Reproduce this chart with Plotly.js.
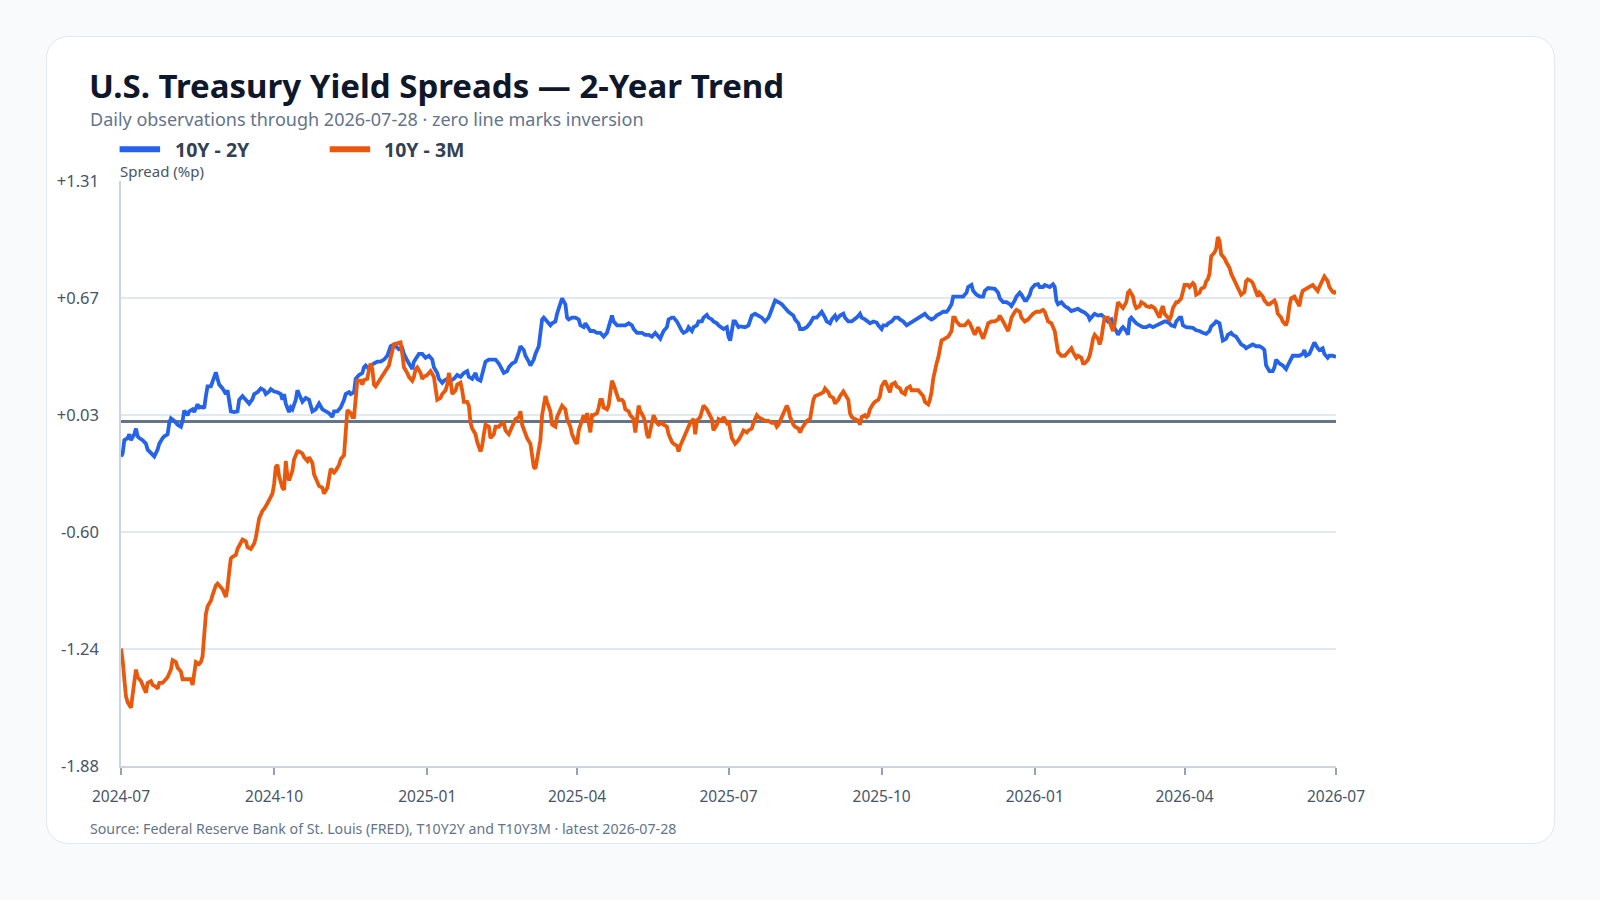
<!DOCTYPE html>
<html>
<head>
<meta charset="utf-8">
<script src="https://cdn.plot.ly/plotly-3.0.1.min.js"></script>
<style>
  html, body { margin: 0; padding: 0; background: #f8fafc; }
  #wrap { position: relative; width: 1600px; height: 900px; overflow: hidden; }
  #card { position: absolute; left: 46px; top: 36px; width: 1507px; height: 806px;
          background: #ffffff; border: 1.5px solid #e2e8f0; border-radius: 22px; }
  #chart { position: absolute; left: 0; top: 0; width: 1600px; height: 900px; }
</style>
</head>
<body>
<div id="wrap">
  <div id="card"></div>
  <div id="chart"></div>
</div>
<script>
// 10Y - 2Y Treasury spread (percentage points)
const dates2y = [
'2024-07-01','2024-07-02','2024-07-03','2024-07-05','2024-07-06','2024-07-07','2024-07-09','2024-07-10','2024-07-11','2024-07-12',
'2024-07-14','2024-07-16','2024-07-17','2024-07-19','2024-07-21','2024-07-23','2024-07-24','2024-07-26','2024-07-27','2024-07-29',
'2024-07-30','2024-07-31','2024-08-02','2024-08-04','2024-08-06','2024-08-07','2024-08-08','2024-08-10','2024-08-11','2024-08-13',
'2024-08-14','2024-08-16','2024-08-17','2024-08-19','2024-08-20','2024-08-21','2024-08-22','2024-08-24','2024-08-25','2024-08-27',
'2024-08-28','2024-08-29','2024-08-31','2024-09-02','2024-09-03','2024-09-04','2024-09-05','2024-09-07','2024-09-09','2024-09-10',
'2024-09-12','2024-09-13','2024-09-15','2024-09-16','2024-09-18','2024-09-19','2024-09-21','2024-09-23','2024-09-25','2024-09-26',
'2024-09-28','2024-09-29','2024-10-01','2024-10-03','2024-10-05','2024-10-06','2024-10-07','2024-10-08','2024-10-10','2024-10-11',
'2024-10-12','2024-10-14','2024-10-15','2024-10-17','2024-10-18','2024-10-20','2024-10-22','2024-10-23','2024-10-24','2024-10-26',
'2024-10-27','2024-10-28','2024-10-30','2024-11-01','2024-11-03','2024-11-05','2024-11-06','2024-11-08','2024-11-10','2024-11-12',
'2024-11-13','2024-11-15','2024-11-16','2024-11-18','2024-11-19','2024-11-21','2024-11-23','2024-11-24','2024-11-25','2024-11-27',
'2024-11-28','2024-11-30','2024-12-02','2024-12-04','2024-12-06','2024-12-08','2024-12-10','2024-12-12','2024-12-13','2024-12-15',
'2024-12-17','2024-12-18','2024-12-20','2024-12-21','2024-12-23','2024-12-24','2024-12-26','2024-12-27','2024-12-29','2024-12-31',
'2025-01-02','2025-01-04','2025-01-05','2025-01-07','2025-01-08','2025-01-10','2025-01-11','2025-01-13','2025-01-15','2025-01-17',
'2025-01-19','2025-01-21','2025-01-23','2025-01-25','2025-01-26','2025-01-28','2025-01-30','2025-01-31','2025-02-02','2025-02-03',
'2025-02-05','2025-02-07','2025-02-09','2025-02-11','2025-02-13','2025-02-14','2025-02-16','2025-02-18','2025-02-19','2025-02-21',
'2025-02-23','2025-02-25','2025-02-26','2025-02-28','2025-03-01','2025-03-03','2025-03-04','2025-03-06','2025-03-07','2025-03-09',
'2025-03-10','2025-03-11','2025-03-12','2025-03-14','2025-03-16','2025-03-17','2025-03-19','2025-03-20','2025-03-22','2025-03-23',
'2025-03-25','2025-03-26','2025-03-27','2025-03-29','2025-03-31','2025-04-02','2025-04-03','2025-04-05','2025-04-06','2025-04-08',
'2025-04-09','2025-04-11','2025-04-13','2025-04-15','2025-04-17','2025-04-19','2025-04-20','2025-04-21','2025-04-22','2025-04-23',
'2025-04-25','2025-04-27','2025-04-30','2025-05-02','2025-05-04','2025-05-05','2025-05-07','2025-05-08','2025-05-10','2025-05-12',
'2025-05-14','2025-05-16','2025-05-18','2025-05-19','2025-05-21','2025-05-22','2025-05-23','2025-05-25','2025-05-26','2025-05-28',
'2025-05-29','2025-05-31','2025-06-01','2025-06-03','2025-06-04','2025-06-06','2025-06-07','2025-06-09','2025-06-10','2025-06-12',
'2025-06-13','2025-06-15','2025-06-16','2025-06-18','2025-06-19','2025-06-21','2025-06-22','2025-06-24','2025-06-25','2025-06-27',
'2025-06-28','2025-06-30','2025-07-01','2025-07-02','2025-07-03','2025-07-04','2025-07-05','2025-07-07','2025-07-08','2025-07-11',
'2025-07-13','2025-07-15','2025-07-17','2025-07-19','2025-07-21','2025-07-23','2025-07-25','2025-07-26','2025-07-28','2025-07-29',
'2025-07-31','2025-08-02','2025-08-04','2025-08-06','2025-08-09','2025-08-10','2025-08-12','2025-08-13','2025-08-15','2025-08-17',
'2025-08-19','2025-08-21','2025-08-23','2025-08-25','2025-08-26','2025-08-28','2025-08-29','2025-08-31','2025-09-01','2025-09-03',
'2025-09-04','2025-09-06','2025-09-08','2025-09-09','2025-09-11','2025-09-13','2025-09-15','2025-09-16','2025-09-18','2025-09-19',
'2025-09-21','2025-09-24','2025-09-26','2025-09-28','2025-09-29','2025-10-01','2025-10-02','2025-10-04','2025-10-05','2025-10-07',
'2025-10-09','2025-10-11','2025-10-12','2025-10-14','2025-10-16','2025-10-18','2025-10-20','2025-10-22','2025-10-24','2025-10-26',
'2025-10-27','2025-10-29','2025-10-31','2025-11-02','2025-11-03','2025-11-05','2025-11-07','2025-11-09','2025-11-10','2025-11-12',
'2025-11-13','2025-11-15','2025-11-17','2025-11-19','2025-11-21','2025-11-22','2025-11-24','2025-11-25','2025-11-27','2025-11-29',
'2025-12-01','2025-12-02','2025-12-04','2025-12-06','2025-12-08','2025-12-10','2025-12-11','2025-12-13','2025-12-15','2025-12-17',
'2025-12-18','2025-12-20','2025-12-21','2025-12-23','2025-12-24','2025-12-26','2025-12-27','2025-12-29','2025-12-30','2026-01-01',
'2026-01-03','2026-01-04','2026-01-06','2026-01-07','2026-01-09','2026-01-10','2026-01-12','2026-01-13','2026-01-14','2026-01-15',
'2026-01-17','2026-01-19','2026-01-21','2026-01-23','2026-01-25','2026-01-27','2026-01-29','2026-01-31','2026-02-02','2026-02-03',
'2026-02-05','2026-02-06','2026-02-08','2026-02-10','2026-02-12','2026-02-14','2026-02-16','2026-02-17','2026-02-19','2026-02-20',
'2026-02-22','2026-02-23','2026-02-25','2026-02-26','2026-02-27','2026-02-28','2026-03-02','2026-03-03','2026-03-05','2026-03-07',
'2026-03-09','2026-03-11','2026-03-13','2026-03-15','2026-03-17','2026-03-18','2026-03-20','2026-03-21','2026-03-23','2026-03-24',
'2026-03-26','2026-03-27','2026-03-29','2026-03-30','2026-03-31','2026-04-02','2026-04-04','2026-04-06','2026-04-08','2026-04-10',
'2026-04-12','2026-04-14','2026-04-16','2026-04-17','2026-04-19','2026-04-20','2026-04-22','2026-04-23','2026-04-24','2026-04-26',
'2026-04-27','2026-04-29','2026-04-30','2026-05-02','2026-05-04','2026-05-05','2026-05-07','2026-05-08','2026-05-10','2026-05-12',
'2026-05-14','2026-05-16','2026-05-18','2026-05-19','2026-05-20','2026-05-22','2026-05-24','2026-05-25','2026-05-26','2026-05-28',
'2026-05-30','2026-06-01','2026-06-02','2026-06-04','2026-06-05','2026-06-07','2026-06-09','2026-06-11','2026-06-12','2026-06-13',
'2026-06-15','2026-06-17','2026-06-18','2026-06-20','2026-06-21','2026-06-23','2026-06-24','2026-06-26','2026-06-27','2026-06-29',
'2026-07-01'
];
const spread2y = [
-0.192,-0.176,-0.103,-0.092,-0.071,-0.103,-0.071,-0.040,-0.082,-0.092,
-0.103,-0.123,-0.155,-0.176,-0.192,-0.155,-0.123,-0.092,-0.082,-0.071,
-0.009,0.016,0.002,-0.019,-0.030,0.002,0.058,0.033,0.054,0.065,
0.050,0.092,0.075,0.079,0.071,0.137,0.190,0.190,0.221,0.267,
0.231,0.200,0.179,0.148,0.169,0.117,0.054,0.050,0.054,0.117,
0.137,0.127,0.106,0.096,0.121,0.148,0.158,0.179,0.169,0.148,
0.162,0.175,0.162,0.158,0.148,0.117,0.148,0.096,0.050,0.075,
0.065,0.117,0.169,0.117,0.106,0.127,0.117,0.085,0.054,0.065,
0.085,0.096,0.065,0.054,0.044,0.023,0.054,0.054,0.075,0.117,
0.148,0.158,0.148,0.158,0.231,0.252,0.263,0.294,0.304,0.284,
0.304,0.315,0.325,0.325,0.336,0.357,0.409,0.419,0.409,0.392,
0.398,0.367,0.331,0.315,0.284,0.325,0.357,0.367,0.367,0.346,
0.357,0.336,0.294,0.263,0.231,0.210,0.221,0.231,0.221,0.231,
0.252,0.242,0.263,0.273,0.242,0.231,0.263,0.231,0.221,0.263,
0.325,0.336,0.336,0.336,0.315,0.294,0.263,0.273,0.294,0.315,
0.325,0.377,0.409,0.388,0.357,0.325,0.304,0.336,0.367,0.409,
0.492,0.555,0.565,0.544,0.523,0.534,0.544,0.586,0.649,0.670,
0.638,0.565,0.555,0.565,0.565,0.555,0.523,0.513,0.534,0.503,
0.492,0.492,0.482,0.482,0.461,0.482,0.513,0.555,0.576,0.544,
0.523,0.523,0.523,0.534,0.523,0.503,0.482,0.482,0.482,0.471,
0.471,0.461,0.482,0.471,0.450,0.471,0.492,0.513,0.555,0.565,
0.565,0.544,0.523,0.492,0.482,0.492,0.513,0.492,0.513,0.523,
0.544,0.544,0.565,0.580,0.565,0.555,0.544,0.534,0.523,0.513,
0.503,0.513,0.461,0.440,0.492,0.544,0.544,0.513,0.517,0.513,
0.523,0.576,0.586,0.576,0.565,0.544,0.565,0.586,0.628,0.659,
0.649,0.638,0.617,0.597,0.576,0.555,0.534,0.503,0.503,0.513,
0.534,0.565,0.565,0.586,0.597,0.565,0.544,0.534,0.555,0.576,
0.555,0.576,0.586,0.565,0.544,0.544,0.555,0.565,0.586,0.565,
0.555,0.534,0.544,0.538,0.523,0.503,0.523,0.523,0.534,0.544,
0.565,0.565,0.555,0.544,0.523,0.534,0.544,0.555,0.565,0.576,
0.586,0.565,0.555,0.565,0.576,0.586,0.597,0.597,0.607,0.638,
0.680,0.680,0.680,0.680,0.701,0.732,0.743,0.711,0.690,0.680,
0.680,0.711,0.726,0.722,0.722,0.701,0.670,0.649,0.649,0.638,
0.628,0.659,0.680,0.701,0.690,0.659,0.659,0.690,0.722,0.743,
0.747,0.732,0.732,0.743,0.732,0.732,0.747,0.732,0.659,0.638,
0.649,0.628,0.617,0.601,0.607,0.613,0.601,0.592,0.576,0.555,
0.576,0.586,0.576,0.580,0.565,0.544,0.555,0.523,0.492,0.471,
0.503,0.513,0.492,0.471,0.555,0.565,0.544,0.534,0.523,0.513,
0.513,0.523,0.513,0.523,0.534,0.534,0.544,0.544,0.534,0.523,
0.517,0.544,0.565,0.565,0.523,0.513,0.513,0.509,0.496,0.492,
0.482,0.476,0.492,0.517,0.534,0.544,0.534,0.492,0.440,0.450,
0.471,0.482,0.471,0.461,0.430,0.419,0.409,0.398,0.409,0.419,
0.409,0.409,0.398,0.388,0.304,0.273,0.273,0.294,0.336,0.315,
0.304,0.284,0.304,0.346,0.357,0.357,0.357,0.367,0.388,0.357,
0.367,0.409,0.430,0.398,0.388,0.398,0.367,0.346,0.357,0.357,
0.350
];

// 10Y - 3M Treasury spread (percentage points)
const dates3m = [
'2024-07-01','2024-07-02','2024-07-03','2024-07-04','2024-07-05','2024-07-07','2024-07-08','2024-07-09','2024-07-10','2024-07-11',
'2024-07-13','2024-07-14','2024-07-16','2024-07-17','2024-07-19','2024-07-20','2024-07-22','2024-07-23','2024-07-24','2024-07-26',
'2024-07-27','2024-07-29','2024-07-31','2024-08-01','2024-08-03','2024-08-04','2024-08-06','2024-08-07','2024-08-08','2024-08-10',
'2024-08-12','2024-08-13','2024-08-14','2024-08-15','2024-08-17','2024-08-18','2024-08-19','2024-08-20','2024-08-21','2024-08-22',
'2024-08-24','2024-08-25','2024-08-27','2024-08-28','2024-08-30','2024-08-31','2024-09-02','2024-09-03','2024-09-04','2024-09-05',
'2024-09-06','2024-09-08','2024-09-09','2024-09-11','2024-09-12','2024-09-14','2024-09-15','2024-09-17','2024-09-19','2024-09-20',
'2024-09-21','2024-09-22','2024-09-24','2024-09-25','2024-09-27','2024-09-28','2024-09-30','2024-10-01','2024-10-02','2024-10-03',
'2024-10-04','2024-10-06','2024-10-07','2024-10-08','2024-10-09','2024-10-10','2024-10-12','2024-10-13','2024-10-15','2024-10-16',
'2024-10-18','2024-10-19','2024-10-21','2024-10-22','2024-10-24','2024-10-25','2024-10-27','2024-10-28','2024-10-30','2024-10-31',
'2024-11-02','2024-11-03','2024-11-04','2024-11-06','2024-11-07','2024-11-09','2024-11-10','2024-11-12','2024-11-13','2024-11-14',
'2024-11-16','2024-11-17','2024-11-18','2024-11-19','2024-11-20','2024-11-22','2024-11-23','2024-11-24','2024-11-26','2024-11-27',
'2024-11-28','2024-11-29','2024-11-30','2024-12-01','2024-12-03','2024-12-04','2024-12-06','2024-12-07','2024-12-09','2024-12-10',
'2024-12-11','2024-12-12','2024-12-14','2024-12-16','2024-12-17','2024-12-18','2024-12-20','2024-12-21','2024-12-23','2024-12-24',
'2024-12-25','2024-12-26','2024-12-28','2024-12-29','2024-12-30','2025-01-01','2025-01-02','2025-01-03','2025-01-05','2025-01-06',
'2025-01-07','2025-01-09','2025-01-10','2025-01-12','2025-01-13','2025-01-14','2025-01-15','2025-01-16','2025-01-18','2025-01-19',
'2025-01-21','2025-01-22','2025-01-23','2025-01-25','2025-01-26','2025-01-27','2025-01-28','2025-01-30','2025-01-31','2025-02-02',
'2025-02-03','2025-02-04','2025-02-05','2025-02-07','2025-02-08','2025-02-10','2025-02-11','2025-02-13','2025-02-14','2025-02-16',
'2025-02-17','2025-02-19','2025-02-20','2025-02-22','2025-02-23','2025-02-25','2025-02-26','2025-02-27','2025-03-01','2025-03-02',
'2025-03-04','2025-03-05','2025-03-06','2025-03-07','2025-03-08','2025-03-10','2025-03-11','2025-03-13','2025-03-14','2025-03-16',
'2025-03-17','2025-03-19','2025-03-20','2025-03-22','2025-03-23','2025-03-25','2025-03-26','2025-03-28','2025-03-29','2025-03-31',
'2025-04-01','2025-04-02','2025-04-04','2025-04-05','2025-04-06','2025-04-07','2025-04-09','2025-04-10','2025-04-11','2025-04-13',
'2025-04-14','2025-04-15','2025-04-16','2025-04-17','2025-04-19','2025-04-20','2025-04-21','2025-04-22','2025-04-23','2025-04-25',
'2025-04-26','2025-04-28','2025-04-29','2025-04-30','2025-05-02','2025-05-03','2025-05-05','2025-05-06','2025-05-07','2025-05-08',
'2025-05-09','2025-05-11','2025-05-12','2025-05-13','2025-05-14','2025-05-16','2025-05-17','2025-05-19','2025-05-20','2025-05-22',
'2025-05-23','2025-05-25','2025-05-26','2025-05-28','2025-05-29','2025-05-31','2025-06-01','2025-06-02','2025-06-04','2025-06-05',
'2025-06-07','2025-06-08','2025-06-10','2025-06-11','2025-06-12','2025-06-14','2025-06-15','2025-06-16','2025-06-18','2025-06-19',
'2025-06-21','2025-06-22','2025-06-24','2025-06-25','2025-06-27','2025-06-28','2025-06-30','2025-07-01','2025-07-02','2025-07-03',
'2025-07-05','2025-07-06','2025-07-07','2025-07-09','2025-07-10','2025-07-12','2025-07-13','2025-07-15','2025-07-16','2025-07-18',
'2025-07-19','2025-07-21','2025-07-23','2025-07-25','2025-07-27','2025-07-29','2025-07-30','2025-07-31','2025-08-02','2025-08-03',
'2025-08-05','2025-08-06','2025-08-07','2025-08-09','2025-08-10','2025-08-12','2025-08-13','2025-08-14','2025-08-16','2025-08-17',
'2025-08-19','2025-08-20','2025-08-21','2025-08-22','2025-08-24','2025-08-25','2025-08-27','2025-08-28','2025-08-30','2025-08-31',
'2025-09-02','2025-09-03','2025-09-05','2025-09-06','2025-09-08','2025-09-09','2025-09-11','2025-09-12','2025-09-13','2025-09-15',
'2025-09-17','2025-09-18','2025-09-19','2025-09-21','2025-09-22','2025-09-23','2025-09-24','2025-09-26','2025-09-27','2025-09-29',
'2025-09-30','2025-10-01','2025-10-03','2025-10-04','2025-10-06','2025-10-07','2025-10-09','2025-10-10','2025-10-12','2025-10-13',
'2025-10-15','2025-10-16','2025-10-18','2025-10-19','2025-10-21','2025-10-23','2025-10-24','2025-10-26','2025-10-27','2025-10-29',
'2025-10-30','2025-10-31','2025-11-01','2025-11-02','2025-11-03','2025-11-04','2025-11-05','2025-11-06','2025-11-08','2025-11-10',
'2025-11-12','2025-11-13','2025-11-14','2025-11-15','2025-11-17','2025-11-19','2025-11-20','2025-11-22','2025-11-23','2025-11-24',
'2025-11-26','2025-11-27','2025-11-28','2025-11-30','2025-12-01','2025-12-03','2025-12-04','2025-12-06','2025-12-08','2025-12-10',
'2025-12-11','2025-12-13','2025-12-14','2025-12-16','2025-12-17','2025-12-18','2025-12-20','2025-12-21','2025-12-23','2025-12-24',
'2025-12-26','2025-12-28','2025-12-30','2025-12-31','2026-01-02','2026-01-04','2026-01-06','2026-01-07','2026-01-09','2026-01-11',
'2026-01-13','2026-01-14','2026-01-15','2026-01-17','2026-01-19','2026-01-20','2026-01-22','2026-01-23','2026-01-24','2026-01-26',
'2026-01-27','2026-01-29','2026-01-30','2026-01-31','2026-02-02','2026-02-03','2026-02-04','2026-02-05','2026-02-06','2026-02-08',
'2026-02-09','2026-02-10','2026-02-11','2026-02-12','2026-02-14','2026-02-15','2026-02-17','2026-02-18','2026-02-19','2026-02-20',
'2026-02-21','2026-02-23','2026-02-25','2026-02-26','2026-02-27','2026-03-01','2026-03-02','2026-03-03','2026-03-05','2026-03-06',
'2026-03-08','2026-03-09','2026-03-11','2026-03-12','2026-03-14','2026-03-15','2026-03-17','2026-03-18','2026-03-19','2026-03-20',
'2026-03-22','2026-03-23','2026-03-24','2026-03-25','2026-03-27','2026-03-28','2026-03-30','2026-03-31','2026-04-01','2026-04-03',
'2026-04-04','2026-04-06','2026-04-07','2026-04-08','2026-04-10','2026-04-11','2026-04-13','2026-04-14','2026-04-15','2026-04-16',
'2026-04-17','2026-04-19','2026-04-20','2026-04-21','2026-04-22','2026-04-23','2026-04-25','2026-04-26','2026-04-28','2026-04-29',
'2026-05-01','2026-05-02','2026-05-04','2026-05-05','2026-05-07','2026-05-08','2026-05-09','2026-05-11','2026-05-12','2026-05-14',
'2026-05-15','2026-05-16','2026-05-18','2026-05-19','2026-05-21','2026-05-22','2026-05-24','2026-05-25','2026-05-26','2026-05-27',
'2026-05-29','2026-05-30','2026-06-01','2026-06-02','2026-06-03','2026-06-04','2026-06-06','2026-06-07','2026-06-09','2026-06-10',
'2026-06-11','2026-06-13','2026-06-15','2026-06-17','2026-06-18','2026-06-20','2026-06-21','2026-06-23','2026-06-24','2026-06-26',
'2026-06-27','2026-06-29','2026-06-30','2026-07-01'
];
const spread3m = [
-1.240,-1.303,-1.407,-1.501,-1.532,-1.563,-1.490,-1.407,-1.354,-1.396,
-1.417,-1.438,-1.480,-1.427,-1.417,-1.438,-1.448,-1.459,-1.427,-1.427,
-1.417,-1.396,-1.354,-1.303,-1.313,-1.344,-1.365,-1.407,-1.407,-1.407,
-1.407,-1.438,-1.365,-1.313,-1.323,-1.313,-1.282,-1.177,-1.052,-1.010,
-0.979,-0.948,-0.895,-0.885,-0.906,-0.916,-0.958,-0.906,-0.822,-0.749,
-0.739,-0.729,-0.697,-0.655,-0.645,-0.655,-0.687,-0.697,-0.666,-0.635,
-0.582,-0.530,-0.488,-0.478,-0.447,-0.426,-0.395,-0.342,-0.249,-0.238,
-0.301,-0.363,-0.374,-0.217,-0.301,-0.322,-0.269,-0.207,-0.165,-0.165,
-0.176,-0.196,-0.217,-0.196,-0.228,-0.290,-0.332,-0.353,-0.363,-0.395,
-0.363,-0.301,-0.259,-0.280,-0.269,-0.238,-0.207,-0.186,-0.050,0.060,
0.044,0.023,0.023,0.117,0.221,0.221,0.200,0.225,0.231,0.284,
0.315,0.284,0.200,0.190,0.221,0.231,0.263,0.273,0.304,0.346,
0.388,0.419,0.425,0.430,0.367,0.294,0.263,0.242,0.221,0.242,
0.284,0.294,0.263,0.231,0.242,0.252,0.263,0.273,0.242,0.179,
0.117,0.127,0.148,0.169,0.200,0.263,0.221,0.148,0.169,0.200,
0.210,0.169,0.106,0.106,0.085,-0.009,-0.040,-0.071,-0.113,-0.165,
-0.134,-0.071,-0.019,-0.030,-0.092,-0.071,-0.030,-0.030,-0.019,-0.009,
-0.050,-0.071,-0.050,-0.019,0.012,0.023,0.054,-0.019,-0.071,-0.092,
-0.123,-0.186,-0.249,-0.259,-0.207,-0.103,0.033,0.137,0.106,0.054,
-0.019,-0.030,0.023,0.065,0.085,0.065,0.012,-0.030,-0.071,-0.113,
-0.123,-0.050,0.012,0.033,0.002,0.044,-0.061,0.033,0.033,0.044,
0.075,0.117,0.117,0.075,0.065,0.085,0.158,0.221,0.200,0.148,
0.117,0.117,0.106,0.065,0.054,0.033,0.012,-0.061,0.012,0.085,
0.054,0.023,-0.009,-0.071,-0.092,-0.009,0.033,-0.009,-0.019,-0.009,
-0.019,-0.030,-0.071,-0.113,-0.123,-0.134,-0.165,-0.134,-0.092,-0.061,
-0.030,-0.009,0.012,-0.071,0.002,0.023,0.054,0.085,0.065,0.044,
0.012,-0.050,-0.019,0.012,0.002,0.023,-0.009,0.002,-0.050,-0.092,
-0.123,-0.113,-0.103,-0.071,-0.050,-0.061,-0.050,-0.040,-0.009,0.033,
0.023,0.012,0.002,0.002,-0.009,-0.009,-0.030,-0.019,0.023,0.054,
0.085,0.065,0.023,-0.019,-0.030,-0.040,-0.061,-0.040,-0.009,0.002,
0.012,0.075,0.117,0.137,0.148,0.148,0.158,0.179,0.158,0.137,
0.127,0.096,0.117,0.137,0.162,0.148,0.117,0.044,0.023,0.012,
0.002,-0.019,0.023,0.033,0.023,0.033,0.065,0.096,0.106,0.117,
0.137,0.190,0.221,0.200,0.158,0.200,0.210,0.190,0.179,0.158,
0.148,0.179,0.190,0.169,0.169,0.169,0.158,0.137,0.106,0.092,
0.117,0.158,0.231,0.284,0.315,0.346,0.409,0.440,0.450,0.461,
0.492,0.565,0.565,0.544,0.523,0.523,0.523,0.544,0.534,0.513,
0.471,0.492,0.513,0.471,0.450,0.503,0.534,0.544,0.544,0.555,
0.576,0.544,0.523,0.492,0.523,0.565,0.597,0.607,0.597,0.565,
0.544,0.555,0.576,0.586,0.597,0.597,0.607,0.597,0.544,0.534,
0.492,0.430,0.377,0.357,0.357,0.367,0.392,0.398,0.377,0.346,
0.357,0.346,0.315,0.315,0.336,0.357,0.398,0.450,0.471,0.450,
0.419,0.450,0.513,0.565,0.565,0.544,0.492,0.534,0.597,0.649,
0.638,0.617,0.649,0.701,0.711,0.680,0.638,0.617,0.628,0.649,
0.638,0.628,0.622,0.628,0.617,0.597,0.565,0.607,0.628,0.586,
0.565,0.555,0.576,0.617,0.649,0.649,0.670,0.701,0.743,0.743,
0.732,0.753,0.743,0.690,0.701,0.722,0.732,0.764,0.774,0.805,
0.899,0.920,0.941,1.004,0.983,0.910,0.889,0.868,0.837,0.805,
0.764,0.743,0.705,0.690,0.705,0.764,0.774,0.764,0.753,0.701,
0.680,0.701,0.680,0.659,0.638,0.638,0.649,0.659,0.638,0.586,
0.565,0.544,0.523,0.555,0.628,0.670,0.680,0.659,0.628,0.680,
0.711,0.722,0.732,0.743,0.732,0.711,0.732,0.764,0.789,0.764,
0.732,0.705,0.701,0.711
];

// Axis ticks
const yTickVals = [-1.88, -1.242, -0.604, 0.034, 0.672, 1.31];
const yTickText = ['-1.88', '-1.24', '-0.60', '+0.03', '+0.67', '+1.31'];
const xRange = ['2024-07-01', '2026-07-01'];

const seriesNames = ['10Y - 2Y', '10Y - 3M'];
const seriesColors = ['#2563eb', '#ea580c'];

const FONT = '"Noto Sans", "Open Sans", sans-serif';

// plot-area margins in pixels; helpers map page pixels to paper coordinates
const M = { l: 121.4, r: 264, t: 180.7, b: 134.1 };
const PW = 1600 - M.l - M.r;
const PH = 900 - M.t - M.b;
const px = x => (x - M.l) / PW;
const py = y => (900 - M.b - y) / PH;

const traces = [
  { x: dates2y, y: spread2y, name: seriesNames[0], type: 'scatter', mode: 'lines',
    line: { color: seriesColors[0], width: 3.8 }, hoverinfo: 'x+y' },
  { x: dates3m, y: spread3m, name: seriesNames[1], type: 'scatter', mode: 'lines',
    line: { color: seriesColors[1], width: 3.8 }, hoverinfo: 'x+y' }
];

const text = (x, y, t, size, color, extra) => Object.assign({
  xref: 'paper', yref: 'paper', x: px(x), y: py(y), text: t, showarrow: false,
  xanchor: 'left', yanchor: 'middle', borderpad: 0,
  font: { family: FONT, size: size, color: color }
}, extra || {});

const layout = {
  width: 1600, height: 900,
  margin: M,
  paper_bgcolor: 'rgba(0,0,0,0)',
  plot_bgcolor: 'rgba(0,0,0,0)',
  showlegend: false,
  font: { family: FONT, color: '#475569' },
  xaxis: {
    type: 'date', range: xRange,
    tick0: '2024-07-01', dtick: 'M3', tickformat: '%Y-%m',
    showgrid: false, zeroline: false,
    showline: true, linecolor: '#cbd5e1', linewidth: 1.5,
    ticks: 'outside', ticklen: 7, tickwidth: 1.5, tickcolor: '#94a3b8',
    ticklabelstandoff: 9,
    tickfont: { family: FONT, size: 15.5, color: '#475569' }
  },
  yaxis: {
    range: [yTickVals[0], yTickVals[yTickVals.length - 1]],
    tickmode: 'array', tickvals: yTickVals, ticktext: yTickText,
    showgrid: true, gridcolor: '#e2e8f0', gridwidth: 1.5,
    zeroline: true, zerolinecolor: '#64748b', zerolinewidth: 2.5,
    showline: true, linecolor: '#cbd5e1', linewidth: 1.5,
    ticks: '', ticklabelstandoff: 17,
    tickfont: { family: FONT, size: 16.5, color: '#475569' }
  },
  shapes: [
    { type: 'line', xref: 'paper', yref: 'paper', x0: px(120), x1: px(160.5), y0: py(149), y1: py(149),
      line: { color: seriesColors[0], width: 6 } },
    { type: 'line', xref: 'paper', yref: 'paper', x0: px(330), x1: px(370.5), y0: py(149), y1: py(149),
      line: { color: seriesColors[1], width: 6 } }
  ],
  annotations: [
    text(88, 85.5, '<b>U.S. Treasury Yield Spreads — 2-Year Trend</b>', 33, '#0f172a'),
    text(89, 118.5, 'Daily observations through 2026-07-28 · zero line marks inversion', 18, '#64748b'),
    text(174, 149, '<b>' + seriesNames[0] + '</b>', 19.5, '#334155'),
    text(383, 149, '<b>' + seriesNames[1] + '</b>', 19.5, '#334155'),
    text(119, 171, 'Spread (%p)', 15, '#475569'),
    text(89, 828.5, 'Source: Federal Reserve Bank of St. Louis (FRED), T10Y2Y and T10Y3M · latest 2026-07-28', 14.2, '#64748b')
  ]
};

Plotly.newPlot('chart', traces, layout, { displayModeBar: false, responsive: false });
</script>
</body>
</html>
